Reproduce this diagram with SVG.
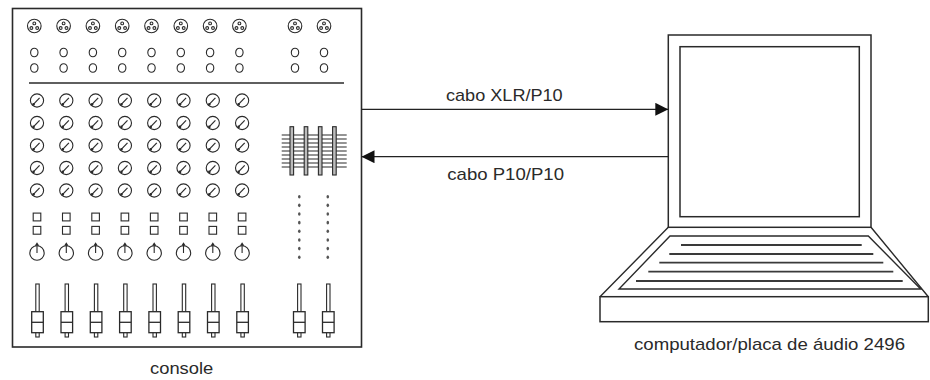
<svg xmlns="http://www.w3.org/2000/svg" xmlns:xlink="http://www.w3.org/1999/xlink" width="930" height="380" viewBox="0 0 930 380">
  <style>
    .ln { fill: none; stroke: #2a2a2a; stroke-width: 1.4; }
    .thin { fill: none; stroke: #2a2a2a; stroke-width: 1.1; }
    .key { fill: none; stroke: #3a3a3a; stroke-width: 1.8; }
    .lbl { font-family: "Liberation Sans", Arial, sans-serif; font-size: 17px; fill: #2a2a2a; }
    .wire { fill: none; stroke: #222; stroke-width: 1.3; }
  </style>
  <defs>
    <!-- XLR input socket -->
    <g id="xlr">
      <circle r="6.8" class="thin"/>
      <circle cx="0" cy="-2.6" r="1.4" class="thin"/>
      <circle cx="-2.9" cy="2" r="1.4" class="thin"/>
      <circle cx="2.9" cy="2" r="1.4" class="thin"/>
    </g>
    <!-- jack socket -->
    <ellipse id="jack" rx="3.7" ry="4.3" class="thin"/>
    <!-- rotary knob -->
    <g id="knob">
      <circle r="6.6" class="thin"/>
      <line x1="2.6" y1="-2.6" x2="-3.4" y2="3.6" stroke="#2a2a2a" stroke-width="1.2"/>
      <circle cx="-3.5" cy="3.9" r="1.3" fill="#2a2a2a"/>
    </g>
    <!-- mute / solo buttons -->
    <g id="btns">
      <rect x="-3.8" y="-3.9" width="7.6" height="7.8" class="thin"/>
      <rect x="-3.8" y="9.4" width="7.6" height="7.8" class="thin"/>
    </g>
    <!-- pan knob -->
    <g id="pan">
      <circle r="7.2" class="thin"/>
      <path d="M0,0 V-9.7 M-1.6,-7.2 L0,-9.7 L1.6,-7.2" class="thin"/>
    </g>
    <!-- channel fader -->
    <g id="fader">
      <rect x="-1.7" y="0" width="3.4" height="53" class="thin" fill="#fff"/>
      <rect x="-5.8" y="27.7" width="11.6" height="21" fill="#fff" stroke="#2a2a2a" stroke-width="1.3"/>
      <line x1="-5.8" y1="38.3" x2="5.8" y2="38.3" stroke="#2a2a2a" stroke-width="1.3"/>
    </g>
    <!-- meter LED column -->
    <g id="meter">
      <ellipse cx="0" cy="0" rx="1.3" ry="1.8" fill="#555"/>
      <ellipse cx="0" cy="8.65" rx="1.3" ry="1.8" fill="#555"/>
      <ellipse cx="0" cy="17.3" rx="1.3" ry="1.8" fill="#555"/>
      <ellipse cx="0" cy="25.95" rx="1.3" ry="1.8" fill="#555"/>
      <ellipse cx="0" cy="34.6" rx="1.3" ry="1.8" fill="#555"/>
      <ellipse cx="0" cy="43.25" rx="1.3" ry="1.8" fill="#555"/>
      <ellipse cx="0" cy="51.9" rx="1.3" ry="1.8" fill="#555"/>
      <ellipse cx="0" cy="60.55" rx="1.3" ry="1.8" fill="#555"/>
    </g>
    <!-- one mixer channel strip below the inputs -->
    <g id="strip">
      <use xlink:href="#knob" y="100.5"/>
      <use xlink:href="#knob" y="123"/>
      <use xlink:href="#knob" y="145.5"/>
      <use xlink:href="#knob" y="168"/>
      <use xlink:href="#knob" y="190.5"/>
      <use xlink:href="#btns" y="217"/>
      <use xlink:href="#pan" y="253"/>
      <use xlink:href="#fader" x="0.5" y="284"/>
    </g>
    <!-- inputs of one channel -->
    <g id="inputs">
      <use xlink:href="#xlr" y="26"/>
      <use xlink:href="#jack" y="52.5"/>
      <use xlink:href="#jack" y="68"/>
    </g>
    <marker id="head" viewBox="0 0 13 13" refX="13" refY="6.5" markerWidth="13" markerHeight="13" markerUnits="userSpaceOnUse" orient="auto">
      <path d="M0,0 L13,6.5 L0,13 Z" fill="#111"/>
    </marker>
  </defs>

  <rect width="930" height="380" fill="#fff"/>

  <!-- mixing console -->
  <g id="console">
    <rect x="12.5" y="8.5" width="349" height="338.5" fill="#fff" stroke="#2a2a2a" stroke-width="1.6"/>
    <line x1="29" y1="83" x2="344" y2="83" class="ln"/>

    <use xlink:href="#inputs" x="34.3"/>
    <use xlink:href="#inputs" x="63.6"/>
    <use xlink:href="#inputs" x="92.9"/>
    <use xlink:href="#inputs" x="122.2"/>
    <use xlink:href="#inputs" x="151.5"/>
    <use xlink:href="#inputs" x="180.8"/>
    <use xlink:href="#inputs" x="210.1"/>
    <use xlink:href="#inputs" x="239.4"/>
    <use xlink:href="#inputs" x="295"/>
    <use xlink:href="#inputs" x="324"/>

    <use xlink:href="#strip" x="37"/>
    <use xlink:href="#strip" x="66.3"/>
    <use xlink:href="#strip" x="95.6"/>
    <use xlink:href="#strip" x="124.9"/>
    <use xlink:href="#strip" x="154.2"/>
    <use xlink:href="#strip" x="183.5"/>
    <use xlink:href="#strip" x="212.8"/>
    <use xlink:href="#strip" x="242.1"/>

    <!-- group fader block -->
    <g id="fader-block">
      <path class="thin" stroke-width="1.3" d="M281.7,135 H346.7 M281.7,139 H346.7 M281.7,143 H346.7 M281.7,147 H346.7 M281.7,151 H346.7 M281.7,155 H346.7 M281.7,159 H346.7 M281.7,163 H346.7 M281.7,167 H346.7"/>
      <rect x="290" y="126.7" width="3.6" height="48.3" fill="#bbb" stroke="#2a2a2a" stroke-width="1.1"/>
      <rect x="304.2" y="126.7" width="3.6" height="48.3" fill="#bbb" stroke="#2a2a2a" stroke-width="1.1"/>
      <rect x="318.4" y="126.7" width="3.6" height="48.3" fill="#bbb" stroke="#2a2a2a" stroke-width="1.1"/>
      <rect x="332.6" y="126.7" width="3.6" height="48.3" fill="#bbb" stroke="#2a2a2a" stroke-width="1.1"/>
    </g>

    <use xlink:href="#meter" x="299.3" y="196.7"/>
    <use xlink:href="#meter" x="327.8" y="196.7"/>

    <use xlink:href="#fader" x="299.3" y="284"/>
    <use xlink:href="#fader" x="328.3" y="284"/>

    <text class="lbl" x="150" y="374" textLength="63.3" lengthAdjust="spacingAndGlyphs">console</text>
  </g>

  <!-- laptop with audio interface -->
  <g id="laptop">
    <rect x="668.3" y="35" width="202.7" height="192.3" fill="#fff" stroke="#2a2a2a" stroke-width="1.5"/>
    <rect x="680" y="46.7" width="179.3" height="170" fill="#fff" stroke="#2a2a2a" stroke-width="1.5"/>
    <path class="ln" d="M668.3,227.3 L600,296.7 M871,227.3 L928.3,296.7"/>
    <path class="ln" d="M670,236 H868.3 L920.7,289 H619 Z"/>
    <path class="key" d="M681,245 H861.7 M669.3,254 H873.3 M659.3,262.7 H883.3 M648.3,271.7 H893.3 M636,281 H902.7"/>
    <rect x="600" y="296.7" width="328.3" height="25" fill="#fff" stroke="#2a2a2a" stroke-width="1.5"/>
    <text class="lbl" x="634" y="350" textLength="271" lengthAdjust="spacingAndGlyphs">computador/placa de áudio 2496</text>
  </g>

  <!-- cables -->
  <g id="connectors">
    <line class="wire" x1="361.5" y1="109.3" x2="668.3" y2="109.3" marker-end="url(#head)"/>
    <line class="wire" x1="668.3" y1="156.7" x2="361.5" y2="156.7" marker-end="url(#head)"/>
    <text class="lbl" x="446" y="101" textLength="116.7" lengthAdjust="spacingAndGlyphs">cabo XLR/P10</text>
    <text class="lbl" x="447.3" y="180" textLength="116.7" lengthAdjust="spacingAndGlyphs">cabo P10/P10</text>
  </g>
</svg>
